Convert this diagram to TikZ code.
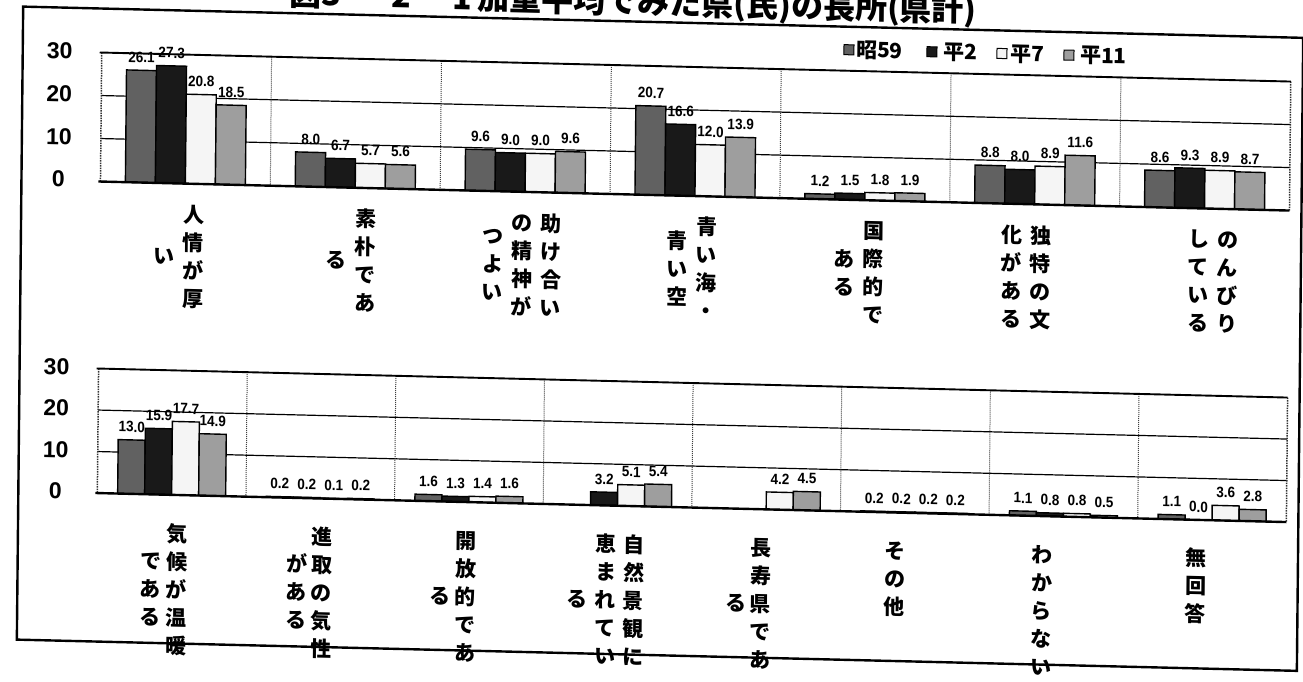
\documentclass[tikz,border=0pt]{standalone}
\usepackage{fontspec}
\setmainfont{Liberation Sans}
\newfontfamily\jpf{Noto Sans CJK JP}
\newfontfamily\numf{Liberation Sans}[FakeStretch=0.9]
\newcommand\vcol[1]{\begin{tabular}{@{}c@{}}#1\end{tabular}}
\tikzset{
  outerframe/.style={line width=2.4pt},
  gridln/.style={line width=1.2pt},
  topln/.style={line width=1.9pt},
  axisln/.style={line width=2.4pt},
  divider/.style={line width=1pt, densely dotted, black!75},
  plotedge/.style={line width=1.5pt, densely dotted, black!80},
  barbox/.style={draw=black, line width=1.4pt},
  vallab/.style={font=\numf\bfseries\fontsize{15}{15}\selectfont, inner sep=0pt},
  ytick/.style={font=\bfseries\fontsize{23}{23}\selectfont, inner sep=0pt},
  catT/.style={font=\jpf\bfseries\fontsize{21}{28}\selectfont, inner sep=0pt},
  catB/.style={font=\jpf\bfseries\fontsize{21}{28}\selectfont, inner sep=0pt},
  legtxt/.style={font=\jpf\bfseries\fontsize{21}{21}\selectfont, inner sep=0pt, anchor=west},
  legbox/.style={draw=black, line width=1pt, minimum size=10pt, inner sep=0pt},
  ttl/.style={font=\jpf\bfseries\fontsize{32}{32}\selectfont, inner sep=0pt},
}
\begin{document}
\begin{tikzpicture}[x=1pt,y=-1pt]
\path[use as bounding box] (0,0) rectangle (1303,681);
\clip (0,0) rectangle (1303,681);
\fill[white] (0,0) rectangle (1303,681);
\begin{scope}[cm={1,-0.0244,0.01,1,(3.4pt,15.88pt)}, transform shape]
% title (cut at the top edge, as in the scan)
\node[ttl, anchor=base west] (t1) at (286,14) {図3};
\node[ttl, anchor=base] (t2) at (360,14) {−};
\node[ttl, anchor=base] (t3) at (398,14) {2};
\node[ttl, anchor=base] (t4) at (459,14) {1};
\node[ttl, anchor=base west] (t5) at (474,14) {加重平均でみた県(民)の長所(県計)};
% outer frame
\draw[outerframe] (20,22) rectangle (1300,655);
% legend
\node[legbox, fill=black!62] (lb1) at (846,45) {};
\node[legtxt] (lt1) at (853,45) {昭59};
\node[legbox, fill=black!90] (lb2) at (929,45) {};
\node[legtxt] (lt2) at (940,45) {平2};
\node[legbox, fill=black!4] (lb3) at (999,45) {};
\node[legtxt] (lt3) at (1007,45) {平7};
\node[legbox, fill=black!38] (lb4) at (1066,45) {};
\node[legtxt] (lt4) at (1077,45) {平11};
% ================= top chart =================
\draw[gridln] (99,109) -- (1288,109);
\draw[gridln] (99,152) -- (1288,152);
\foreach \k in {1,...,6} \draw[divider] ({99+\k*169.857},66) -- ({99+\k*169.857},195);
\draw[plotedge] (99,66) -- (99,195);
\draw[plotedge] (1288,66) -- (1288,195);
\draw[topln] (97,66) -- (1288,66);
\foreach \i/\va/\vb/\vcc/\vd in {0/26.1/27.3/20.8/18.5, 1/8.0/6.7/5.7/5.6, 2/9.6/9.0/9.0/9.6, 3/20.7/16.6/12.0/13.9, 4/1.2/1.5/1.8/1.9, 5/8.8/8.0/8.9/11.6, 6/8.6/9.3/8.9/8.7} {
  \pgfmathsetmacro\cx{99+(\i+0.5)*169.857}
  \foreach \jj/\vv/\ff in {0/\va/black!62, 1/\vb/black!90, 2/\vcc/black!4, 3/\vd/black!38} {
    \pgfmathsetmacro\xl{\cx-60+30*\jj}
    \pgfmathsetmacro\yt{195-4.3*\vv}
    \draw[barbox, fill=\ff] (\xl,195) rectangle ({\xl+30},\yt);
  }
}
\draw[axisln] (97,195) -- (1288,195);
\foreach \i/\va/\vb/\vcc/\vd in {0/26.1/27.3/20.8/18.5, 1/8.0/6.7/5.7/5.6, 2/9.6/9.0/9.0/9.6, 3/20.7/16.6/12.0/13.9, 4/1.2/1.5/1.8/1.9, 5/8.8/8.0/8.9/11.6, 6/8.6/9.3/8.9/8.7} {
  \pgfmathsetmacro\cx{99+(\i+0.5)*169.857}
  \foreach \jj/\vv in {0/\va, 1/\vb, 2/\vcc, 3/\vd} {
    \pgfmathsetmacro\xl{\cx-45+30*\jj}
    \pgfmathsetmacro\yt{195-4.3*\vv-13}
    \node[vallab] (vt-\i-\jj) at (\xl,\yt) {\vv};
  }
}
\node[ytick] (ya30) at (57,65) {30};
\node[ytick] (ya20) at (57,108) {20};
\node[ytick] (ya10) at (57,151) {10};
\node[ytick] (ya0) at (57,193) {0};
% top category labels
\node[catT] (c1a) at (192.5,270.2) {\vcol{人\\情\\が\\厚}};
\node[catT] (c1b) at (163.5,270.2) {\vcol{い}};
\node[catT] (c2a) at (364.5,270.2) {\vcol{素\\朴\\で\\あ}};
\node[catT] (c2b) at (335.5,270.2) {\vcol{る}};
\node[catT] (c3a) at (550,270.2) {\vcol{助\\け\\合\\い}};
\node[catT] (c3b) at (521,270.2) {\vcol{の\\精\\神\\が}};
\node[catT] (c3c) at (492,270.2) {\vcol{つ\\よ\\い}};
\node[catT] (c4a) at (705.5,270.2) {\vcol{青\\い\\海\\・}};
\node[catT] (c4b) at (676.5,270.2) {\vcol{青\\い\\空}};
\node[catT] (c5a) at (872.5,270.2) {\vcol{国\\際\\的\\で}};
\node[catT] (c5b) at (843.5,270.2) {\vcol{あ\\る}};
\node[catT] (c6a) at (1039.5,270.2) {\vcol{独\\特\\の\\文}};
\node[catT] (c6b) at (1010.5,270.2) {\vcol{化\\が\\あ\\る}};
\node[catT] (c7a) at (1226.5,270.2) {\vcol{の\\ん\\び\\り}};
\node[catT] (c7b) at (1197.5,270.2) {\vcol{し\\て\\い\\る}};
% ================= bottom chart =================
\draw[gridln] (99,423.5) -- (1288,423.5);
\draw[gridln] (99,465) -- (1288,465);
\foreach \k in {1,...,7} \draw[divider] ({99+\k*148.625},382) -- ({99+\k*148.625},506.5);
\draw[plotedge] (99,382) -- (99,506.5);
\draw[plotedge] (1288,382) -- (1288,506.5);
\draw[topln] (97,382) -- (1288,382);
\foreach \i/\jj/\vv/\ff in {0/0/13.0/black!62, 0/1/15.9/black!90, 0/2/17.7/black!4, 0/3/14.9/black!38,
  1/0/0.2/black!62, 1/1/0.2/black!90, 1/2/0.1/black!4, 1/3/0.2/black!38,
  2/0/1.6/black!62, 2/1/1.3/black!90, 2/2/1.4/black!4, 2/3/1.6/black!38,
  3/1/3.2/black!90, 3/2/5.1/black!4, 3/3/5.4/black!38,
  4/2/4.2/black!4, 4/3/4.5/black!38,
  5/0/0.2/black!62, 5/1/0.2/black!90, 5/2/0.2/black!4, 5/3/0.2/black!38,
  6/0/1.1/black!62, 6/1/0.8/black!90, 6/2/0.8/black!4, 6/3/0.5/black!38,
  7/0/1.1/black!62, 7/1/0.0/black!90, 7/2/3.6/black!4, 7/3/2.8/black!38} {
  \pgfmathsetmacro\xl{99+(\i+0.5)*148.625-54+27*\jj}
  \pgfmathsetmacro\yt{506.5-4.15*\vv}
  \draw[barbox, fill=\ff] (\xl,506.5) rectangle ({\xl+27},\yt);
  \pgfmathsetmacro\yl{\yt-13}
  \node[vallab] (vb-\i-\jj) at ({\xl+13.5},\yl) {\vv};
}
\draw[axisln] (97,506.5) -- (1288,506.5);
\node[ytick] (yb30) at (57,381) {30};
\node[ytick] (yb20) at (57,422.5) {20};
\node[ytick] (yb10) at (57,464) {10};
\node[ytick] (yb0) at (57,505) {0};
% bottom category labels
\node[catB] (d1a) at (179,603.2) {\vcol{気\\候\\が\\温\\暖}};
\node[catB] (d1b) at (153,603.2) {\vcol{で\\あ\\る}};
\node[catB] (d2a) at (324,603.2) {\vcol{進\\取\\の\\気\\性}};
\node[catB] (d2b) at (299,603.2) {\vcol{が\\あ\\る}};
\node[catB] (d3a) at (468,603.2) {\vcol{開\\放\\的\\で\\あ}};
\node[catB] (d3b) at (443,603.2) {\vcol{る}};
\node[catB] (d4a) at (636,603.2) {\vcol{自\\然\\景\\観\\に}};
\node[catB] (d4b) at (608,603.2) {\vcol{恵\\ま\\れ\\て\\い}};
\node[catB] (d4c) at (580,603.2) {\vcol{る}};
\node[catB] (d5a) at (763,603.2) {\vcol{長\\寿\\県\\で\\あ}};
\node[catB] (d5b) at (739,603.2) {\vcol{る}};
\node[catB] (d6a) at (897,575.2) {\vcol{そ\\の\\他}};
\node[catB] (d7a) at (1044,603.2) {\vcol{わ\\か\\ら\\な\\い}};
\node[catB] (d8a) at (1198,575.2) {\vcol{無\\回\\答}};
\end{scope}
\end{tikzpicture}
\end{document}
